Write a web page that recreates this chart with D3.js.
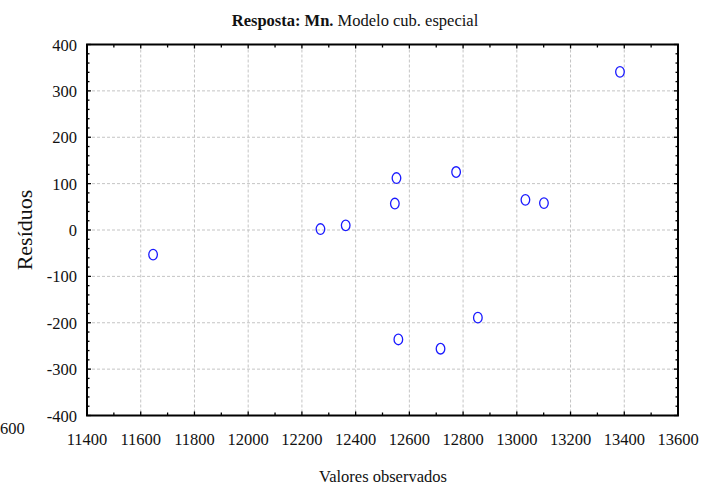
<!DOCTYPE html>
<html>
<head>
<meta charset="utf-8">
<script src="https://cdn.jsdelivr.net/npm/d3@7"></script>
<style>
  html, body { margin: 0; padding: 0; background: #fff; }
  svg { display: block; }
  text { font-family: "Liberation Serif", "Times New Roman", serif; fill: #111; }
</style>
</head>
<body>
<svg id="chart" width="718" height="488"></svg>
<script>
// Observed Mn values and residuals of the special cubic model
const observed = [11646, 12269, 12363, 12546, 12552, 12774, 13032, 13101, 13384, 12559, 12716, 12855];
const residuals = [-53, 2, 10, 57, 112, 125, 65, 58, 341, -236, -256, -189];

const xTicks = [11400, 11600, 11800, 12000, 12200, 12400, 12600, 12800, 13000, 13200, 13400, 13600];
const yTicks = [-400, -300, -200, -100, 0, 100, 200, 300, 400];

const svg = d3.select("#chart");
const plotL = 87, plotR = 678, plotT = 44.5, plotB = 415.5;

const x = d3.scaleLinear().domain([11400, 13600]).range([plotL, plotR]);
const y = d3.scaleLinear().domain([-400, 400]).range([plotB, plotT]);

// dashed grid
const grid = svg.append("g").attr("stroke", "#c4c4c4").attr("stroke-width", 1).attr("stroke-dasharray", "3,2");
grid.selectAll("line.v").data(xTicks.slice(1, -1)).join("line").attr("class", "v")
  .attr("x1", d => x(d)).attr("x2", d => x(d)).attr("y1", plotT).attr("y2", plotB);
grid.selectAll("line.h").data(yTicks.slice(1, -1)).join("line").attr("class", "h")
  .attr("y1", d => y(d)).attr("y2", d => y(d)).attr("x1", plotL).attr("x2", plotR);

// inward tick marks on all four sides
const ticks = svg.append("g").attr("stroke", "#000").attr("stroke-width", 1.3);
const xMinor = d3.range(11400, 13601, 100);
const yMinor = d3.range(-400, 401, 20);
xMinor.forEach(v => {
  const len = v % 200 === 0 ? 4 : 3;
  ticks.append("line").attr("x1", x(v)).attr("x2", x(v)).attr("y1", plotB).attr("y2", plotB - len);
  ticks.append("line").attr("x1", x(v)).attr("x2", x(v)).attr("y1", plotT).attr("y2", plotT + len);
});
yMinor.forEach(v => {
  const len = v % 100 === 0 ? 4 : 2.5;
  ticks.append("line").attr("y1", y(v)).attr("y2", y(v)).attr("x1", plotL).attr("x2", plotL + len);
  ticks.append("line").attr("y1", y(v)).attr("y2", y(v)).attr("x1", plotR).attr("x2", plotR - len);
});

// frame
svg.append("rect").attr("x", plotL).attr("y", plotT).attr("width", plotR - plotL).attr("height", plotB - plotT)
  .attr("fill", "none").attr("stroke", "#000").attr("stroke-width", 2);

// tick labels
svg.append("g").selectAll("text").data(xTicks).join("text")
  .attr("x", d => x(d)).attr("y", 445).attr("text-anchor", "middle")
  .attr("font-size", 16.5).text(d => d);
svg.append("g").selectAll("text").data(yTicks).join("text")
  .attr("x", 77).attr("y", d => y(d) + 6).attr("text-anchor", "end")
  .attr("font-size", 16.5).text(d => d);

// stray label at the lower left edge
svg.append("text").attr("x", 0).attr("y", 434).attr("font-size", 16.5).text("600");

// title
const title = svg.append("text").attr("x", 355).attr("y", 26).attr("text-anchor", "middle").attr("font-size", 16.5);
title.append("tspan").attr("font-weight", "bold").text("Resposta: Mn.");
title.append("tspan").text(" Modelo cub. especial");

// axis titles
svg.append("text").attr("x", 383).attr("y", 482).attr("text-anchor", "middle").attr("font-size", 16.5)
  .text("Valores observados");
svg.append("text").attr("transform", "translate(32,230) rotate(-90)").attr("text-anchor", "middle")
  .attr("font-size", 22).text("Resíduos");

// points
svg.append("g").selectAll("ellipse").data(observed).join("ellipse")
  .attr("cx", d => x(d)).attr("cy", (d, i) => y(residuals[i]))
  .attr("rx", 4.3).attr("ry", 5.3)
  .attr("fill", "none").attr("stroke", "#1a1aff").attr("stroke-width", 1.3);
</script>
</body>
</html>
